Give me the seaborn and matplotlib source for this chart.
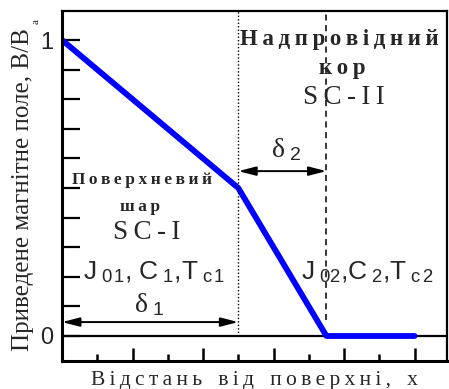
import matplotlib
matplotlib.use("Agg")
import matplotlib.pyplot as plt
from matplotlib.ticker import FixedLocator, FixedFormatter, NullFormatter
import numpy as np
import pandas as pd
import seaborn as sns

# Normalised field profile B/Ba versus depth from the surface
depth = [0.0, 5.0, 7.5, 10.0]
field_ratio = [1.0, 0.5, 0.0, 0.0]

# Layer boundaries: surface layer thickness and end of the penetration depth
surface_layer_end = 5.0
core_penetration_end = 7.5

y_tick_values = [round(v, 1) for v in np.arange(0, 1.01, 0.1)]
y_tick_labels = ["0"] + [""] * 9 + ["1"]

x_label_words = ["Відстань", "від", "поверхні,", "x"]
y_label = "Приведене магнітне поле, B/B"
y_label_sub = "a"
core_title = ["Надпровідний", "кор"]
layer_title = ["Поверхневий", "шар"]

sns.set_theme(style="ticks")
plt.rcParams["font.family"] = ["Liberation Serif", "DejaVu Serif"]
plt.rcParams["mathtext.fontset"] = "custom"
plt.rcParams["mathtext.rm"] = "Liberation Serif"
plt.rcParams["mathtext.sf"] = "Liberation Sans"
plt.rcParams["mathtext.it"] = "Liberation Serif"

TS = "\u2009"


def spaced(text):
    return TS.join(list(text))


df = pd.DataFrame({"x": depth, "b": field_ratio})

fig = plt.figure(figsize=(4.49, 3.89), dpi=100)
ax = fig.add_axes([62 / 449, 28 / 389, 385 / 449, 350 / 389])

sns.lineplot(data=df, x="x", y="b", ax=ax, color="#0000ff", lw=4.2,
             solid_capstyle="round", solid_joinstyle="round")

ax.set_xlim(0, 10.92)
ax.set_ylim(-0.0845, 1.098)

# zero level
ax.axhline(0, color="black", lw=1.6, zorder=1)

# layer boundaries
ax.vlines(surface_layer_end, 0, 1.098, colors="black", linestyles=(0, (1, 1.5)), lw=1.0)
ax.vlines(core_penetration_end, 0.054, 1.098, colors="black", linestyles=(0, (4, 3)), lw=1.1)

# thickness arrows
arrow_style = dict(arrowstyle="<|-|>,head_length=0.7,head_width=0.18", color="black",
                   lw=1.4, mutation_scale=15, shrinkA=0, shrinkB=0)
ax.annotate("", xy=(0, 0.047), xytext=(surface_layer_end, 0.047), arrowprops=arrow_style)
ax.annotate("", xy=(surface_layer_end, 0.557), xytext=(core_penetration_end, 0.557),
            arrowprops=arrow_style)

# ticks
ax.xaxis.set_major_locator(FixedLocator([2, 4, 6, 8, 10]))
ax.xaxis.set_minor_locator(FixedLocator([1, 3, 5, 7, 9]))
ax.xaxis.set_major_formatter(NullFormatter())
ax.tick_params(axis="x", which="major", direction="in", length=9.5, width=1.8, color="black")
ax.tick_params(axis="x", which="minor", direction="in", length=5, width=1.8, color="black")
ax.yaxis.set_major_locator(FixedLocator(y_tick_values))
ax.yaxis.set_major_formatter(FixedFormatter(y_tick_labels))
ax.tick_params(axis="y", which="major", direction="in", length=13, width=1.6, color="black",
               pad=6, labelsize=17)
for lab in ax.get_yticklabels():
    lab.set_fontfamily("Liberation Sans")

for side, w in [("left", 2.2), ("bottom", 2.2), ("top", 1.6), ("right", 1.6)]:
    ax.spines[side].set_visible(True)
    ax.spines[side].set_linewidth(w)
    ax.spines[side].set_color("black")

ax.set_xlabel("   ".join(spaced(w) for w in x_label_words), fontsize=15.5, labelpad=4)
ax.set_ylabel(y_label, fontsize=18, family="Liberation Serif")
ax.yaxis.set_label_coords(-0.072, 0.49)
fig.text(36 / 449, 1 - 22 / 389, y_label_sub, rotation=90, ha="center", va="center",
         fontsize=8, family="Liberation Serif")

# region annotations
ax.text(7.87, 1.003, spaced(core_title[0]), ha="center", va="center", fontsize=16.5, fontweight="bold")
ax.text(7.96, 0.905, spaced(core_title[1]), ha="center", va="center", fontsize=16.5, fontweight="bold")
ax.text(8.0, 0.807, spaced("SC-II"), ha="center", va="center", fontsize=19.5)
ax.text(6.37, 0.628, "$\\mathrm{δ}_{\\ \\mathsf{2}}$", ha="center", va="center", fontsize=20)

ax.text(2.28, 0.527, spaced(layer_title[0]), ha="center", va="center", fontsize=12.5, fontweight="bold")
ax.text(2.2, 0.436, spaced(layer_title[1]), ha="center", va="center", fontsize=12.5, fontweight="bold")
ax.text(2.4, 0.348, spaced("SC-I"), ha="center", va="center", fontsize=19.5)
ax.text(2.62, 0.215,
        "$\\mathsf{J}_{\\ \\mathsf{0}\\,\\mathsf{1}}\\mathsf{,}\\ \\mathsf{C}_{\\ \\mathsf{1}}"
        "\\mathsf{,}\\mathsf{T}_{\\ \\mathsf{c}\\,\\mathsf{1}}$",
        ha="center", va="center", fontsize=19)
ax.text(2.48, 0.105, "$\\mathrm{δ}_{\\ \\mathsf{1}}$", ha="center", va="center", fontsize=20)
ax.text(8.65, 0.215,
        "$\\mathsf{J}_{\\ \\mathsf{0}\\mathsf{2}}\\mathsf{,}\\mathsf{C}_{\\ \\mathsf{2}}"
        "\\mathsf{,}\\mathsf{T}_{\\ \\mathsf{c}\\,\\mathsf{2}}$",
        ha="center", va="center", fontsize=19)

fig.savefig("out.png", dpi=100)
